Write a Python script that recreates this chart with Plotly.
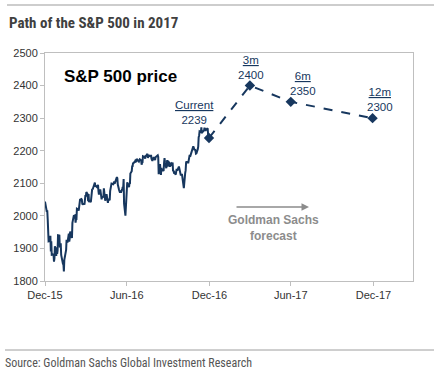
import pandas as pd
import plotly.graph_objects as go

# ---------------- data ----------------
start_date = "2015-12-31"
start_close = 2043.94
market_holidays_2016 = ["2016-01-01", "2016-01-18", "2016-02-15", "2016-03-25", "2016-05-30",
                        "2016-07-04", "2016-09-05", "2016-11-24", "2016-12-26"]
closes_2016 = [
    # Jan
    2012.66, 2016.71, 1990.26, 1943.09, 1922.03, 1923.67, 1938.68, 1890.28, 1921.84, 1880.33,
    1881.33, 1859.33, 1868.99, 1906.90, 1877.08, 1903.63, 1882.95, 1893.36, 1940.24,
    # Feb
    1939.38, 1903.03, 1912.53, 1915.45, 1880.05, 1853.44, 1852.21, 1851.86, 1829.08, 1864.78,
    1895.58, 1926.82, 1917.83, 1917.78, 1945.50, 1921.27, 1929.80, 1951.70, 1948.05, 1932.23,
    # Mar
    1978.35, 1986.45, 1993.40, 1999.99, 2001.76, 1979.26, 1989.26, 1989.57, 2022.19, 2019.64,
    2015.93, 2027.22, 2040.59, 2049.58, 2051.60, 2049.80, 2036.71, 2035.94, 2037.05, 2055.01,
    2063.95, 2059.74,
    # Apr
    2072.78, 2066.13, 2045.17, 2066.66, 2041.91, 2047.60, 2041.99, 2061.72, 2082.42, 2082.78,
    2080.73, 2094.34, 2100.80, 2102.40, 2091.48, 2091.58, 2087.79, 2091.70, 2095.15, 2075.81,
    2065.30,
    # May
    2081.43, 2063.37, 2051.12, 2050.63, 2057.14, 2058.69, 2084.39, 2064.46, 2064.11, 2046.61,
    2066.66, 2047.21, 2047.63, 2040.04, 2052.32, 2048.04, 2076.06, 2090.54, 2090.10, 2099.06,
    2096.95,
    # Jun
    2099.33, 2105.26, 2099.13, 2109.41, 2112.13, 2119.12, 2115.48, 2096.07, 2079.06, 2075.32,
    2071.50, 2077.99, 2071.22, 2083.25, 2088.90, 2085.45, 2113.32, 2037.41, 2000.54, 2036.09,
    2070.77, 2098.86,
    # Jul
    2102.95, 2088.55, 2099.73, 2097.90, 2129.90, 2137.16, 2152.14, 2152.43, 2163.75, 2161.74,
    2166.89, 2163.78, 2173.02, 2165.17, 2175.03, 2168.48, 2169.18, 2166.58, 2170.06, 2173.60,
    # Aug
    2170.84, 2157.03, 2163.79, 2164.25, 2182.87, 2180.89, 2181.74, 2175.49, 2185.79, 2184.05,
    2190.15, 2178.15, 2182.22, 2187.02, 2183.87, 2182.64, 2186.90, 2175.44, 2172.47, 2169.04,
    2180.38, 2176.12, 2170.95,
    # Sep
    2170.86, 2179.98, 2186.48, 2186.16, 2181.30, 2127.81, 2159.04, 2127.02, 2125.77, 2147.26,
    2139.16, 2139.12, 2139.76, 2163.12, 2177.18, 2164.69, 2146.10, 2159.93, 2171.37, 2151.13,
    2168.27,
    # Oct
    2161.20, 2150.49, 2159.73, 2160.77, 2153.74, 2163.66, 2136.73, 2139.18, 2132.55, 2132.98,
    2126.50, 2139.60, 2144.29, 2141.34, 2141.16, 2151.33, 2143.16, 2139.43, 2133.04, 2126.41,
    2126.15,
    # Nov
    2111.72, 2097.94, 2088.66, 2085.18, 2131.52, 2139.56, 2163.26, 2167.48, 2164.45, 2164.20,
    2180.39, 2176.94, 2187.12, 2181.90, 2198.18, 2202.94, 2204.72, 2213.35, 2201.72, 2204.66,
    2198.81,
    # Dec
    2191.08, 2191.95, 2204.71, 2212.23, 2241.35, 2246.19, 2259.53, 2256.96, 2271.72, 2253.28,
    2262.03, 2258.07, 2262.53, 2270.76, 2265.18, 2260.96, 2263.79, 2268.88, 2249.92, 2249.26,
    2238.83,
]

forecast_labels = ["Current", "3m", "6m", "12m"]
forecast_dates = ["2016-12-30", "2017-03-31", "2017-06-30", "2017-12-29"]
forecast_values = [2239, 2400, 2350, 2300]

tick_dates = ["2015-12-31", "2016-06-30", "2016-12-31", "2017-06-30", "2017-12-31"]
tick_labels = ["Dec-15", "Jun-16", "Dec-16", "Jun-17", "Dec-17"]

# ---------------- build ----------------
trading_days = pd.bdate_range("2016-01-01", "2016-12-31", freq="C", holidays=market_holidays_2016)
assert len(trading_days) == len(closes_2016)
hist_dates = [pd.Timestamp(start_date)] + list(trading_days)
hist_values = [start_close] + closes_2016

NAVY = "#17375E"
GRAY = "#8C8C8C"
AXIS = "#BFBFBF"
FONT = "Liberation Sans, Arial, sans-serif"
COND = "Roboto Condensed, DejaVu Sans Condensed, sans-serif"

fig = go.Figure()
fig.add_trace(go.Scatter(x=hist_dates, y=hist_values, mode="lines",
                         line=dict(color=NAVY, width=2), hoverinfo="skip", showlegend=False))
fig.add_trace(go.Scatter(x=forecast_dates, y=forecast_values, mode="lines+markers",
                         line=dict(color=NAVY, width=2, dash="dash"),
                         marker=dict(symbol="diamond", size=8, color=NAVY),
                         hoverinfo="skip", showlegend=False))

# label offsets (pixels): (xshift, yshift of the two-line label block centre)
offsets = [(-15, 26), (1, 18), (12, 18), (7, 19)]
for lab, d, v, (xs, ys) in zip(forecast_labels, forecast_dates, forecast_values, offsets):
    fig.add_annotation(x=d, y=v, text=f"<u>{lab}</u><br>{v}", showarrow=False,
                       xshift=xs, yshift=ys, xanchor="center", yanchor="middle", align="center",
                       font=dict(family=FONT, size=11.5, color=NAVY))

W0, W1, H0, H1 = 45, 413, 53, 281
def px(X):
    return (X - W0) / (W1 - W0)
def py(Y):
    return (H1 - Y) / (H1 - H0)

fig.add_annotation(xref="paper", yref="paper", x=px(62), y=py(76), xanchor="left", yanchor="middle",
                   text="<b>S&P 500 price</b>", showarrow=False,
                   font=dict(family=FONT, size=17, color="#000000"))

# forecast arrow + text
fig.add_annotation(xref="paper", yref="paper", x=px(309), y=py(207), ax=-74, ay=0,
                   axref="pixel", ayref="pixel", text="", showarrow=True,
                   arrowhead=2, arrowsize=1, arrowwidth=1.5, arrowcolor=GRAY)
fig.add_annotation(xref="paper", yref="paper", x=px(273), y=py(228),
                   text="<b>Goldman Sachs</b><br><b>forecast</b>",
                   xanchor="center", yanchor="middle", align="center",
                   showarrow=False, font=dict(family=FONT, size=12, color=GRAY))

# title and source
fig.add_annotation(xref="paper", yref="paper", x=px(7), y=py(23), xanchor="left", yanchor="middle",
                   text="<b>Path of the S&P 500 in 2017</b>", showarrow=False,
                   font=dict(family=COND, size=15, color="#404040"))
fig.add_annotation(xref="paper", yref="paper", x=px(3), y=py(363), xanchor="left", yanchor="middle",
                   text="Source: Goldman Sachs Global Investment Research", showarrow=False,
                   font=dict(family=COND, size=12, color="#555555"))
fig.add_shape(type="line", xref="paper", yref="paper", x0=px(7), x1=px(434), y0=py(5), y1=py(5),
              line=dict(color="#BDBDBD", width=1.5))
fig.add_shape(type="line", xref="paper", yref="paper", x0=px(5), x1=px(434), y0=py(350), y1=py(350),
              line=dict(color="#9E9E9E", width=1))

fig.update_xaxes(type="date", range=["2015-12-31", "2018-03-29"], tickvals=tick_dates,
                 ticktext=tick_labels, ticks="outside", ticklen=4, tickcolor=AXIS,
                 showline=True, linecolor=AXIS, linewidth=1, mirror=True, showgrid=False,
                 zeroline=False, tickfont=dict(family=FONT, size=11, color="#333333"))
fig.update_yaxes(range=[1800, 2500], dtick=100, ticks="outside", ticklen=4, tickcolor=AXIS,
                 showline=True, linecolor=AXIS, linewidth=1, mirror=True, showgrid=False,
                 zeroline=False, tickfont=dict(family=FONT, size=11, color="#333333"))

fig.update_layout(width=434, height=377, margin=dict(l=W0, r=434 - W1, t=H0, b=377 - H1),
                  paper_bgcolor="white", plot_bgcolor="white", showlegend=False)

fig.write_html("out.html", config={"displayModeBar": False},
               post_script="document.body.style.margin='0';")
